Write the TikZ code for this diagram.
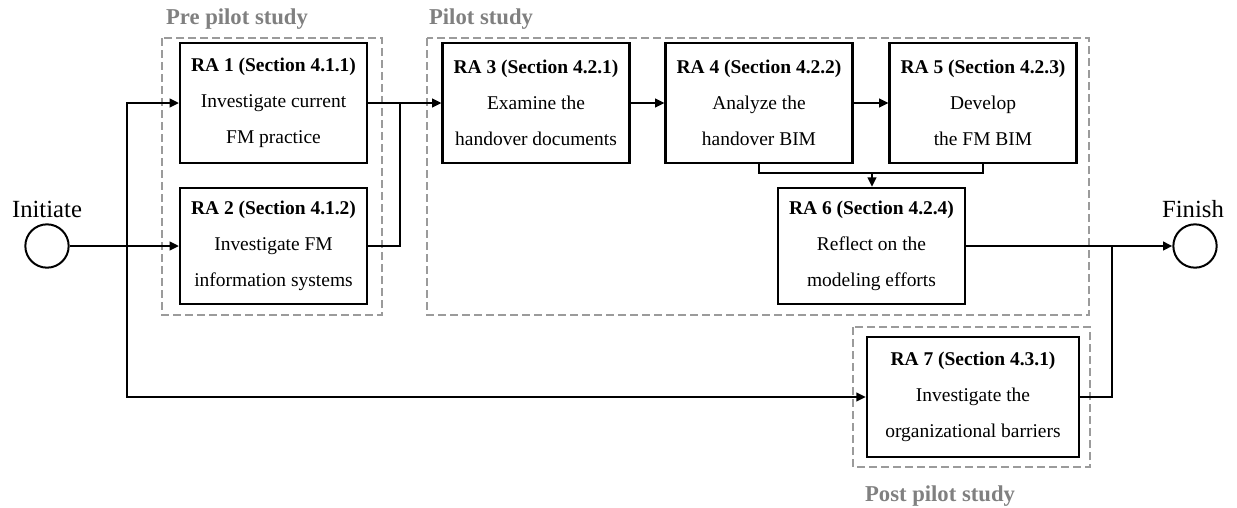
\documentclass[tikz,border=0pt]{standalone}
\usepackage{fontspec}
\setmainfont{Liberation Serif}
\usetikzlibrary{arrows.meta}

\tikzset{
  rabox/.style={draw, line width=1.9pt, minimum width=140pt, minimum height=90pt, inner sep=0pt, align=center, font=\fontsize{14.6}{27}\selectfont},
  phase/.style={draw={rgb, 255:red, 155; green, 155; blue, 155 }, line width=0.9pt, dash pattern={on 6pt off 3pt}},
  phaselabel/.style={text={rgb, 255:red, 128; green, 128; blue, 128 }, inner sep=0.75pt, font=\fontsize{17}{20}\selectfont\bfseries},
  flow/.style={line width=1.5pt},
  flowarrow/.style={flow, -{Triangle[length=7pt,width=6.5pt]}},
  endpoint/.style={circle, draw, line width=1.5pt, minimum size=32.5pt, inner sep=0pt},
  endlabel/.style={inner sep=0.75pt, font=\fontsize{18.5}{22}\selectfont},
}

\begin{document}
\begin{tikzpicture}[x=0.75pt,y=0.75pt,yscale=-1,xscale=1]
	\useasboundingbox (0,0) rectangle (1237,507);

	%Shape: Rectangle (phases)
	\draw [phase] (162,38) rectangle (382,315);
	\draw [phase] (427,38) rectangle (1089,315);
	\draw [phase] (853,327) rectangle (1090,467);

	% Text Node
	\node [phaselabel] (prelbl) at (237,19) {Pre pilot study};
	% Text Node
	\node [phaselabel] (pilotlbl) at (481,19) {Pilot study};
	% Text Node
	\node [phaselabel] (postlbl) at (940,496) {Post pilot study};

	%Shape: Circle
	\node [endpoint] (start) at (47,246) {};
	\node [endlabel] (startlbl) at (47,209) {Initiate};
	\node [endpoint] (finish) at (1195,246) {};
	\node [endlabel] (finishlbl) at (1193,209) {Finish};

	%Shape: Rectangle (activities)
	\node [rabox] (ra1) at (273.5,103) {\textbf{RA 1 (Section 4.1.1)}\\Investigate current\\FM practice};
	\node [rabox, minimum height=87pt] (ra2) at (273.5,246) {\textbf{RA 2 (Section 4.1.2)}\\Investigate FM\\information systems};
	\node [rabox] (ra3) at (536,103) {\textbf{RA 3 (Section 4.2.1)}\\Examine the\\handover documents};
	\node [rabox] (ra4) at (759,103) {\textbf{RA 4 (Section 4.2.2)}\\Analyze the\\handover BIM};
	\node [rabox] (ra5) at (983,103) {\textbf{RA 5 (Section 4.2.3)}\\Develop\\the FM BIM};
	\node [rabox, minimum height=87pt] (ra6) at (871.5,246) {\textbf{RA 6 (Section 4.2.4)}\\Reflect on the\\modeling efforts};
	\node [rabox, minimum width=159pt] (ra7) at (973,397) {\textbf{RA 7 (Section 4.3.1)}\\Investigate the\\organizational barriers};

	%Straight Lines
	\coordinate (split) at (127,246);
	\coordinate (merge) at (400,103);
	\coordinate (join) at (872,173);
	\coordinate (gather) at (1112,246);

	\draw [flow] (start) -- (split);
	\draw [flowarrow] (split) -- (split -| ra2.west);
	\draw [flowarrow] (split) |- (ra1.west);
	\draw [flowarrow] (split) |- (ra7.west);
	\draw [flow] (ra1.east) -- (merge);
	\draw [flow] (ra2.east) -| (merge);
	\draw [flowarrow] (merge) -- (ra3.west);
	\draw [flowarrow] (ra3) -- (ra4);
	\draw [flowarrow] (ra4) -- (ra5);
	\draw [flow] (ra4.south) |- (join) -| (ra5.south);
	\draw [flowarrow] (join) -- (join |- ra6.north);
	\draw [flowarrow] (ra6.east) -- (finish.west);
	\draw [flow] (ra7.east) -| (gather);

\end{tikzpicture}
\end{document}
